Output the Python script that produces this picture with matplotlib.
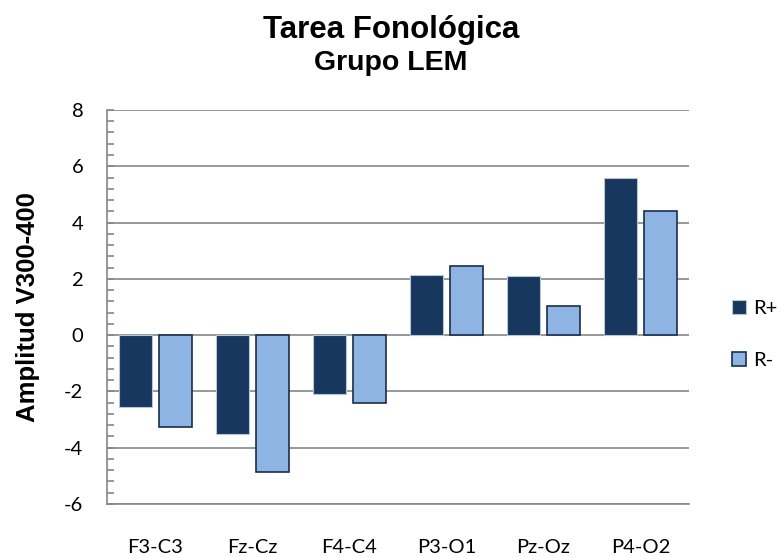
import matplotlib
matplotlib.use("Agg")

import numpy as np
import matplotlib.pyplot as plt
from matplotlib.ticker import MultipleLocator

plt.rcParams["axes.unicode_minus"] = False

# datos
categorias = ["F3-C3", "Fz-Cz", "F4-C4", "P3-O1", "Pz-Oz", "P4-O2"]
r_mas = [-2.56, -3.51, -2.08, 2.15, 2.09, 5.58]
r_menos = [-3.25, -4.86, -2.42, 2.45, 1.02, 4.41]
series = ["R+", "R-"]

oscuro = "#17375E"
claro = "#8EB4E3"
gris = "#868686"

fig = plt.figure(figsize=(7.82, 5.58), dpi=100)
ax = fig.add_axes([0.1368, 0.0968, 0.7442, 0.7061])

x = np.arange(len(categorias))
ancho = 0.34
ax.bar(x - 0.21, r_mas, ancho, color=oscuro, edgecolor="#B9C4D4",
       linewidth=0.8, label=series[0], zorder=3)
ax.bar(x + 0.21, r_menos, ancho, color=claro, edgecolor="#1A2E4C",
       linewidth=1.2, label=series[1], zorder=3)

ax.set_xlim(-0.5, len(categorias) - 0.5)
ax.set_ylim(-6, 8)
ax.yaxis.set_major_locator(MultipleLocator(2))
ax.yaxis.set_minor_locator(MultipleLocator(0.4))
ax.grid(axis="y", color=gris, linewidth=1.2, zorder=1)

for s in ["top", "right"]:
    ax.spines[s].set_visible(False)
for s in ["left", "bottom"]:
    ax.spines[s].set_color(gris)
    ax.spines[s].set_linewidth(1.2)

ax.set_xticks(x)
ax.set_xticklabels(categorias, fontfamily="Lato", fontsize=14.5)
ax.tick_params(axis="x", length=0, pad=25)
ax.tick_params(axis="y", which="both", direction="in", length=5,
               color=gris, width=1.2, labelsize=14.5, pad=17)
for t in ax.get_yticklabels():
    t.set_fontfamily("Lato")

ax.set_ylabel("Amplitud V300-400", fontfamily="Liberation Sans",
              fontweight="bold", fontsize=18.5)
ax.yaxis.set_label_coords(-0.115, 0.5)

fig.text(0.5, 0.947, "Tarea Fonológica", ha="center", va="center",
         fontfamily="Liberation Sans", fontweight="bold", fontsize=22.5)
fig.text(0.5, 0.887, "Grupo LEM", ha="center", va="center",
         fontfamily="Liberation Sans", fontweight="bold", fontsize=20.5)

leg = ax.legend(loc="center left", bbox_to_anchor=(1.043, 0.43), frameon=False,
                prop={"family": "Lato", "size": 14.5}, labelspacing=1.7,
                handlelength=0.7, handleheight=0.7, handletextpad=0.35)

plt.savefig("out.png", dpi=100)
